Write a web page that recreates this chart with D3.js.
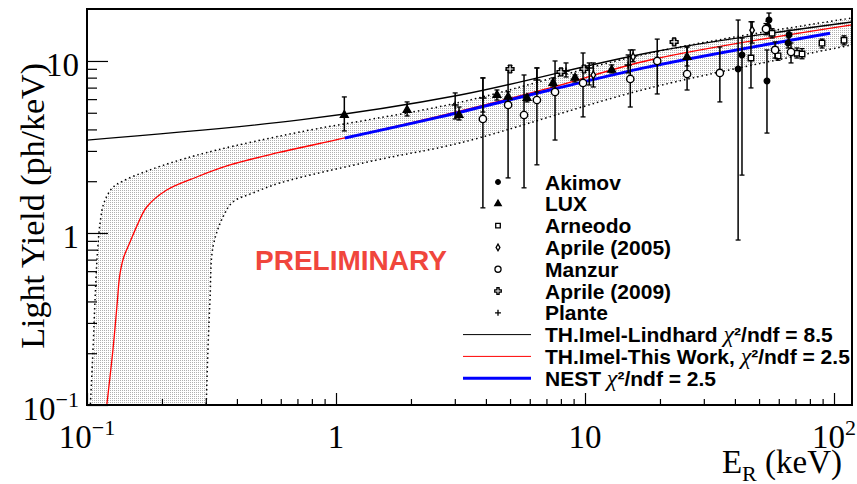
<!DOCTYPE html>
<html>
<head>
<meta charset="utf-8">
<script src="https://cdn.jsdelivr.net/npm/d3@7"></script>
<style>
  body { margin: 0; background: #fff; }
  svg text { font-family: "Liberation Serif", "Times New Roman", serif; }
  .leg { font-family: "Liberation Sans", Arial, sans-serif; font-weight: bold; font-size: 21px; }
</style>
</head>
<body>
<div id="chart"></div>
<script>
// ---- data (E in keV, light yield in ph/keV) ----
// points: [E, LY, LYlow, LYhigh]
var akimov = [
  [41.2, 8.98, 0.91, 17.3], [42.7, 10.84, 2.17, 13.6], [53.8, 7.65, 3.81, 11.59],
  [54.8, 17.3, 15.6, 19.0], [54.3, 15.8, 14.6, 17.0], [66.0, 14.2, 12.9, 15.1],
  [65.4, 12.7, 11.9, 13.8]
];
var lux = [
  [1.08, 4.85, 3.92, 6.18], [1.93, 5.19, 4.79, 5.78], [3.12, 4.85, 4.54, 5.40],
  [4.43, 6.34, 5.93, 6.78], [4.91, 6.18, 5.78, 6.62], [5.85, 6.09, 5.78, 6.34],
  [7.44, 7.45, 7.06, 7.97], [9.12, 7.97, 7.55, 8.29], [12.8, 8.87, 8.52, 9.48],
  [25.7, 10.55, 9.35, 12.06]
];
var arneodo = [
  [46.4, 10.4, 6.97, 16.9], [56.4, 14.5, 13.6, 15.4], [59.6, 10.7, 10.1, 11.5],
  [71.0, 11.1, 10.4, 11.9], [74.4, 10.98, 10.3, 11.8], [89.5, 12.7, 11.9, 13.4],
  [109.7, 13.2, 12.4, 14.0]
];
var aprile05 = [
  [10.8, 8.29, 7.06, 9.74], [15.6, 10.55, 9.9, 11.6], [46.9, 15.1, 12.7, 16.9]
];
var manzur = [
  [3.89, 4.60, 1.40, 7.97], [4.91, 5.55, 2.09, 8.87], [5.69, 4.85, 1.83, 8.29],
  [6.41, 5.93, 2.49, 9.11], [7.58, 6.60, 3.47, 10.0], [9.82, 7.45, 4.73, 11.13],
  [15.2, 7.86, 5.40, 11.59], [19.5, 10.0, 6.43, 13.4], [25.7, 8.40, 6.78, 12.06],
  [34.8, 8.52, 5.78, 12.06], [53.3, 15.35, 14.2, 16.5], [58.0, 11.59, 10.4, 12.9],
  [67.2, 11.28, 9.74, 12.72]
];
var aprile09 = [
  [5.0, 8.98, 8.6, 9.4], [8.01, 8.63, 8.3, 9.0], [9.91, 8.98, 8.6, 9.4], [22.8, 12.9, 12.4, 13.4]
];
var plante = [
  [3.01, 5.55, 4.60, 6.52], [3.89, 6.09, 5.05, 7.97], [6.41, 7.75, 6.60, 9.11],
  [8.39, 8.75, 8.07, 9.74], [10.4, 9.11, 7.25, 9.74], [14.9, 9.48, 8.52, 10.84]
];

// curves: [E, LY]
var lindhard = [[0.1, 3.47], [0.717, 4.54], [3.148, 6.34], [18.24, 11.2], [118, 16.85]];
var thisWork = [
  [0.1197, 0.0961], [0.1272, 0.2116], [0.1324, 0.40], [0.1352, 0.56], [0.1403, 0.72],
  [0.1489, 0.886], [0.1600, 1.13], [0.1737, 1.416], [0.209, 1.778], [0.276, 2.116],
  [0.375, 2.485], [0.578, 2.918], [1.086, 3.567], [2.617, 4.79], [7.23, 6.97],
  [18.24, 10.13], [118, 16.2]
];
var nest = [[1.086, 3.567], [2.617, 4.73], [7.23, 6.78], [18.24, 9.27], [96.4, 14.5]];
var bandUpper = [
  [0.1028, 0.09], [0.1057, 0.209], [0.1077, 0.408], [0.1100, 0.75], [0.1130, 1.16],
  [0.117, 1.50], [0.126, 1.82], [0.1395, 2.006], [0.1742, 2.294], [0.2363, 2.657],
  [0.3327, 3.038], [0.7169, 3.866], [3.062, 5.70], [18.24, 11.13], [118, 17.78]
];
var bandLower = [
  [0.3005, 0.09], [0.306, 0.209], [0.3119, 0.408], [0.3206, 0.829], [0.3517, 1.239],
  [0.3858, 1.516], [0.4642, 1.708], [0.5957, 1.953], [1.461, 2.657], [3.148, 3.337],
  [18.24, 6.97], [118, 12.39]
];

// ticks
var xMajor = [0.1, 1, 10, 100];
var xLabels = [["10", "\u22121"], ["1", ""], ["10", ""], ["10", "2"]];
var xMinor = [0.2, 0.3, 0.4, 0.5, 0.6, 0.7, 0.8, 0.9, 2, 3, 4, 5, 6, 7, 8, 9,
              20, 30, 40, 50, 60, 70, 80, 90];
var yMajor = [0.1, 1, 10];
var yLabels = [["10", "\u22121"], ["1", ""], ["10", ""]];
var yMinor = [0.2, 0.3, 0.4, 0.5, 0.6, 0.7, 0.8, 0.9, 2, 3, 4, 5, 6, 7, 8, 9];

var legendNames = ["Akimov", "LUX", "Arneodo", "Aprile (2005)", "Manzur", "Aprile (2009)", "Plante"];
var lineNames = [["TH.Imel-Lindhard ", "8.5"], ["TH.Imel-This Work, ", "2.5"], ["NEST ", "2.5"]];

// ---- layout ----
var W = 857, H = 484;
var pLeft = 87, pRight = 852, pTop = 9, pBottom = 405;

var x = d3.scaleLog().domain([0.1, 118.1]).range([pLeft, pRight]);
var y = d3.scaleLog().domain([0.1, 20.05]).range([pBottom, pTop]);

var svg = d3.select("#chart").append("svg")
    .attr("width", W).attr("height", H);
svg.append("rect").attr("width", W).attr("height", H).attr("fill", "#fff");

var defs = svg.append("defs");
defs.append("clipPath").attr("id", "plotclip")
  .append("rect").attr("x", pLeft).attr("y", pTop)
  .attr("width", pRight - pLeft).attr("height", pBottom - pTop);
var pat = defs.append("pattern").attr("id", "stip")
    .attr("width", 2).attr("height", 2).attr("patternUnits", "userSpaceOnUse");
pat.append("rect").attr("width", 2).attr("height", 2).attr("fill", "#fff");
pat.append("rect").attr("width", 1).attr("height", 1).attr("fill", "#b0b0b0");

var plot = svg.append("g").attr("clip-path", "url(#plotclip)");

var line = d3.line()
    .x(function(d) { return x(d[0]); })
    .y(function(d) { return y(d[1]); })
    .curve(d3.curveCatmullRom.alpha(0.5));

// band
var bandPath = line(bandUpper) + line(bandLower.slice().reverse()).replace(/^M/, "L") + "Z";
plot.append("path").attr("d", bandPath).attr("fill", "url(#stip)").attr("stroke", "none");
[bandUpper, bandLower].forEach(function(b) {
  plot.append("path").attr("d", line(b))
    .attr("fill", "none").attr("stroke", "#000")
    .attr("stroke-width", 1.5).attr("stroke-dasharray", "1.5,3");
});

// theory curves
plot.append("path").attr("d", line(lindhard))
  .attr("fill", "none").attr("stroke", "#000").attr("stroke-width", 1.3);
plot.append("path").attr("d", line(thisWork))
  .attr("fill", "none").attr("stroke", "#ff0000").attr("stroke-width", 1.3);
plot.append("path").attr("d", line(nest))
  .attr("fill", "none").attr("stroke", "#0000ff").attr("stroke-width", 3);

// markers
var plusSym = { draw: function(ctx, size) {
  var r = Math.sqrt(size) / 2;
  ctx.moveTo(-r, 0); ctx.lineTo(r, 0); ctx.moveTo(0, -r); ctx.lineTo(0, r);
}};
var styles = [
  { data: akimov,   type: d3.symbolCircle,   size: 24, fill: "#000" },
  { data: lux,      type: d3.symbolTriangle, size: 26, fill: "#000" },
  { data: arneodo,  type: d3.symbolSquare,   size: 30, fill: "#fff" },
  { data: aprile05, type: d3.symbolDiamond,  size: 18, fill: "#fff" },
  { data: manzur,   type: d3.symbolCircle,   size: 42, fill: "#fff" },
  { data: aprile09, type: d3.symbolCross,    size: 34, fill: "#fff" },
  { data: plante,   type: plusSym,           size: 50, fill: "none" }
];

var pts = svg.append("g").attr("clip-path", "url(#plotclip)");
styles.forEach(function(s) {
  var g = pts.append("g");
  var bars = g.selectAll(".eb").data(s.data).enter().append("g").attr("class", "eb");
  bars.append("line")
    .attr("x1", function(d) { return x(d[0]); }).attr("x2", function(d) { return x(d[0]); })
    .attr("y1", function(d) { return y(d[2]); }).attr("y2", function(d) { return y(d[3]); })
    .attr("stroke", "#000").attr("stroke-width", 1.5);
  [2, 3].forEach(function(k) {
    bars.append("line")
      .attr("x1", function(d) { return x(d[0]) - 2.5; }).attr("x2", function(d) { return x(d[0]) + 2.5; })
      .attr("y1", function(d) { return y(d[k]); }).attr("y2", function(d) { return y(d[k]); })
      .attr("stroke", "#000").attr("stroke-width", 1.3);
  });
  g.selectAll(".mk").data(s.data).enter().append("path")
    .attr("class", "mk")
    .attr("transform", function(d) { return "translate(" + x(d[0]) + "," + y(d[1]) + ")"; })
    .attr("d", d3.symbol().type(s.type).size(s.size))
    .attr("fill", s.fill).attr("stroke", "#000").attr("stroke-width", 1.4);
});

// axes (ticks inside the frame)
function noDomain(g) { g.select(".domain").remove(); }
svg.append("g").attr("transform", "translate(0," + pBottom + ")")
  .call(d3.axisBottom(x).tickValues(xMinor).tickSize(-6).tickFormat("").tickSizeOuter(0)).call(noDomain);
svg.append("g").attr("transform", "translate(0," + pBottom + ")")
  .call(d3.axisBottom(x).tickValues(xMajor).tickSize(-12).tickFormat("").tickSizeOuter(0)).call(noDomain);
svg.append("g").attr("transform", "translate(" + pLeft + ",0)")
  .call(d3.axisLeft(y).tickValues(yMinor).tickSize(-10).tickFormat("").tickSizeOuter(0)).call(noDomain);
svg.append("g").attr("transform", "translate(" + pLeft + ",0)")
  .call(d3.axisLeft(y).tickValues(yMajor).tickSize(-21).tickFormat("").tickSizeOuter(0)).call(noDomain);
svg.selectAll(".tick line").attr("stroke-width", 1.2);

function label(px, py, anchor, parts) {
  var t = svg.append("text").attr("x", px).attr("y", py)
    .attr("text-anchor", anchor).attr("font-size", 33).attr("fill", "#000");
  t.append("tspan").text(parts[0]);
  if (parts[1]) t.append("tspan").attr("dy", -13).attr("font-size", 22).text(parts[1]);
}
xMajor.forEach(function(v, i) { label(x(v), 448, "middle", xLabels[i]); });
yMajor.forEach(function(v, i) { label(79, y(v) + 15, "end", yLabels[i]); });

// frame
svg.append("rect").attr("x", pLeft).attr("y", pTop)
  .attr("width", pRight - pLeft).attr("height", pBottom - pTop)
  .attr("fill", "none").attr("stroke", "#000").attr("stroke-width", 2);

// axis titles
svg.append("text")
  .attr("transform", "translate(44,63) rotate(-90)")
  .attr("text-anchor", "end").attr("font-size", 34)
  .text("Light Yield (ph/keV)");
var xt = svg.append("text").attr("x", 842).attr("y", 473)
  .attr("text-anchor", "end").attr("font-size", 33);
xt.append("tspan").text("E");
xt.append("tspan").attr("dy", 8).attr("font-size", 22).text("R");
xt.append("tspan").attr("dy", -8).text(" (keV)");

// PRELIMINARY
svg.append("text").attr("x", 255).attr("y", 270)
  .style("font-family", "'Liberation Sans', Arial, sans-serif")
  .style("font-weight", "bold").attr("font-size", 28)
  .attr("fill", "#f0463c").text("PRELIMINARY");

// legend
var legX = 498, legTextX = 545, legY0 = 182, legStep = 21.8;
styles.forEach(function(s, i) {
  var cy = legY0 + i * legStep;
  svg.append("path")
    .attr("transform", "translate(" + legX + "," + cy + ")")
    .attr("d", d3.symbol().type(s.type).size(s.size * 0.7))
    .attr("fill", s.fill).attr("stroke", "#000").attr("stroke-width", 1.3);
  svg.append("text").attr("class", "leg").attr("x", legTextX).attr("y", cy + 7.5).text(legendNames[i]);
});
var lineStyles = [["#000", 1], ["#ff0000", 1], ["#0000ff", 3]];
lineNames.forEach(function(n, j) {
  var cy = legY0 + (7 + j) * legStep;
  svg.append("line").attr("x1", 463).attr("x2", 531).attr("y1", cy).attr("y2", cy)
    .attr("stroke", lineStyles[j][0]).attr("stroke-width", lineStyles[j][1]);
  var t = svg.append("text").attr("class", "leg").attr("x", legTextX).attr("y", cy + 7.5);
  t.append("tspan").text(n[0]);
  t.append("tspan").style("font-family", "'Liberation Serif', serif")
    .style("font-style", "italic").style("font-weight", "normal")
    .attr("font-size", 24).text("\u03c7");
  t.append("tspan").text("\u00b2/ndf = " + n[1]);
});
</script>
</body>
</html>
